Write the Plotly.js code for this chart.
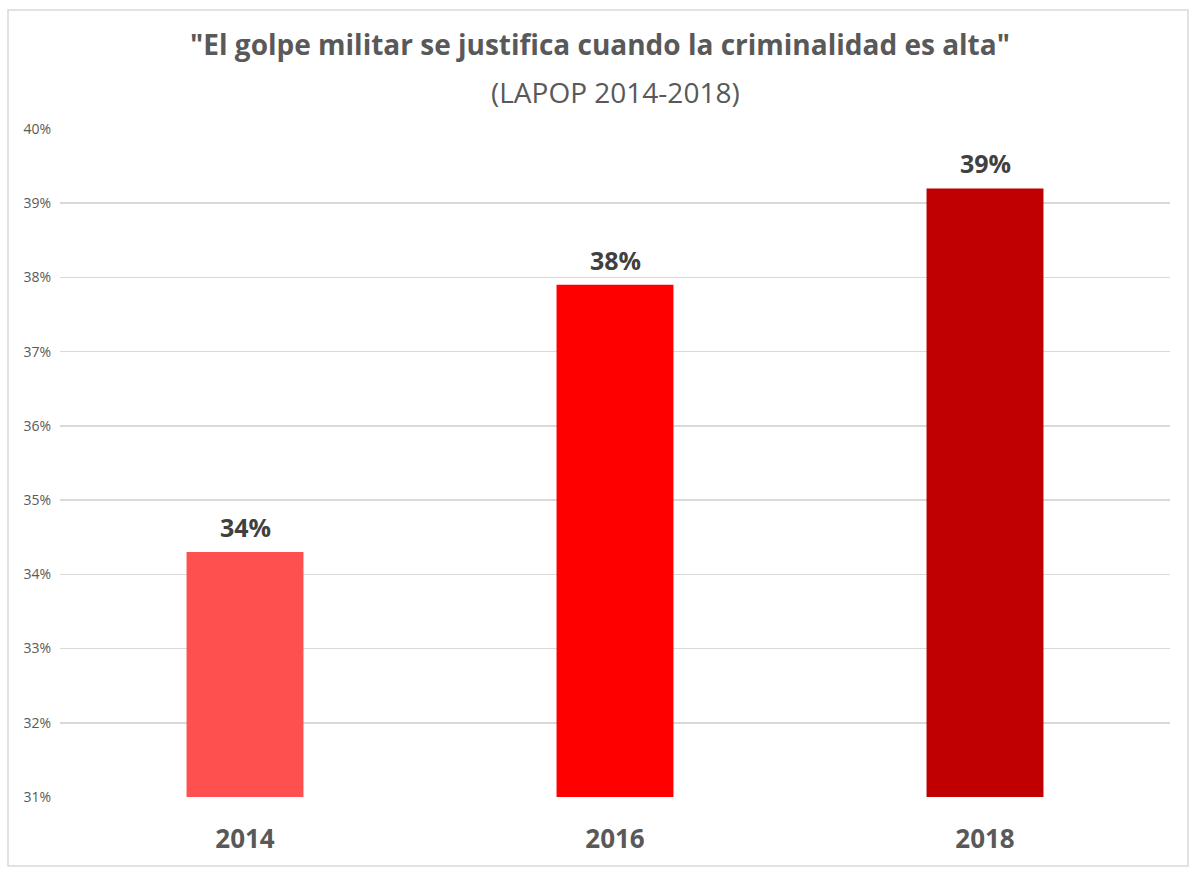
<!DOCTYPE html>
<html>
<head>
<meta charset="utf-8">
<script src="https://cdn.plot.ly/plotly-3.0.1.min.js"></script>
<style>
  body { margin: 0; background: #fff; }
  #chart { width: 1200px; height: 881px; }
</style>
</head>
<body>
<div id="chart"></div>
<script>
// values (percent)
const years = ['2014', '2016', '2018'];
const justifica = [34.3, 37.9, 39.2];
const barColors = ['#ff5050', '#ff0000', '#c00000'];

const W = 1200, H = 881;
const plotTop = 129, plotH = 668;
const font = 'Open Sans, sans-serif';

let data = [{
  type: 'bar',
  x: years,
  y: justifica,
  base: 0,
  marker: { color: barColors },
  hoverinfo: 'x+y'
}];

// data labels above the bars
// (x is the category index: a string like '2014' would be read as a number)
let labels = years.map(function(yr, i) {
  return {
    x: i, y: justifica[i],
    xref: 'x', yref: 'y',
    text: '<b>' + Math.round(justifica[i]) + '%</b>',
    showarrow: false,
    yanchor: 'bottom',
    yshift: 6,
    font: { family: font, size: 25, color: '#404040' }
  };
});

// second line of the title
labels.push({
  x: 0.5, y: 1 + (plotTop - 92) / plotH,
  xref: 'paper', yref: 'paper',
  text: '(LAPOP 2014-2018)',
  showarrow: false,
  xanchor: 'center', yanchor: 'middle',
  font: { family: font, size: 28, color: '#595959' }
});

let layout = {
  width: W,
  height: H,
  paper_bgcolor: '#ffffff',
  plot_bgcolor: '#ffffff',
  margin: { l: 60, r: 30, t: plotTop, b: 84 },
  showlegend: false,
  bargap: 0.684,
  title: {
    text: '<b>"El golpe militar se justifica cuando la criminalidad es alta"</b>',
    font: { family: font, size: 28, color: '#595959' },
    x: 0.5,
    xanchor: 'center',
    y: 1 - 45 / H,
    yanchor: 'middle',
    automargin: false
  },
  xaxis: {
    type: 'category',
    range: [-0.5, years.length - 0.5],
    showgrid: false,
    zeroline: false,
    showline: false,
    ticks: '',
    ticklabelstandoff: 24,
    tickfont: { family: font, size: 26, color: '#595959', weight: 'bold' }
  },
  yaxis: {
    range: [31, 40],
    dtick: 1,
    ticksuffix: '%',
    showgrid: true,
    gridcolor: '#d9d9d9',
    gridwidth: 1.5,
    zeroline: false,
    showline: false,
    ticks: '',
    ticklabelstandoff: 8,
    tickfont: { family: font, size: 14, color: '#595959' }
  },
  annotations: labels,
  shapes: [{
    type: 'rect',
    xref: 'paper', yref: 'paper',
    x0: -52 / 1110, x1: 1 + 18 / 1110,
    y0: -69 / plotH, y1: 1 + 119 / plotH,
    line: { color: '#d9d9d9', width: 1.5 },
    fillcolor: 'rgba(0,0,0,0)',
    layer: 'below'
  }]
};

Plotly.newPlot('chart', data, layout, { displayModeBar: false, staticPlot: true });
</script>
</body>
</html>
